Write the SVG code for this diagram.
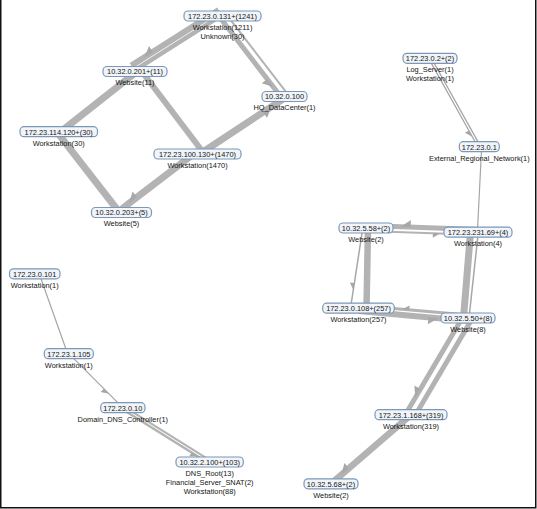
<svg xmlns="http://www.w3.org/2000/svg" width="537" height="509" viewBox="0 0 537 509">
<style>
.e{fill:none;stroke:#b3b3b3;stroke-linecap:butt}
.t{stroke:#a6a6a6}
.b{fill:#f1f4f9;stroke:#7b98b9;stroke-width:1.2}
text{font-family:"Liberation Sans",Arial,sans-serif;font-size:7.4px;fill:#141414;text-anchor:middle}
</style>
<defs>
<marker id="ahL" markerUnits="userSpaceOnUse" refX="0" refY="0" markerWidth="12" markerHeight="12" orient="auto" overflow="visible"><path d="M0,0 L-10,7 L-10,0 Z" fill="#a8a8a8"/></marker>
<marker id="ahS" markerUnits="userSpaceOnUse" refX="0" refY="0" markerWidth="10" markerHeight="10" orient="auto" overflow="visible"><path d="M0,0 L-7,4.5 L-7,0 Z" fill="#a6a6a6"/></marker>
</defs>
<rect x="0" y="0" width="537" height="509" fill="#ffffff"/>
<path d="M0.75,0 V507.75 H535.75 V0" fill="none" stroke="#111" stroke-width="1.5"/>
<g id="connectors">
<path class="e" stroke-width="6" d="M218.8,10.1 L144.4,57.3 L131.3,65.6" marker-mid="url(#ahL)"/>
<path class="e" stroke-width="4.5" d="M221.9,15.2 L134.4,70.7"/>
<path class="e" stroke-width="5" d="M220.1,17.8 L273.4,87 L282.1,98.3" marker-mid="url(#ahL)"/>
<path class="e" stroke-width="2" d="M225.7,13.6 L287.7,94.1"/>
<path class="e" stroke-width="6" d="M139.4,68.2 L201.9,150.7"/>
<path class="e" stroke-width="7" d="M197.5,155.5 L271.5,106.6 L284.5,98" marker-mid="url(#ahL)"/>
<path class="e" stroke-width="7" d="M58.7,133.2 L135,73"/>
<path class="e" stroke-width="7" d="M56.7,131.7 L119.5,212.5"/>
<path class="e" stroke-width="7" d="M197.5,151 L129.1,203.2 L121.5,209.5" marker-mid="url(#ahL)"/>
<path class="e t" stroke-width="1.3" d="M431.1,57.7 L480.4,146.1"/>
<path class="e t" stroke-width="1.3" d="M428.9,58.9 L472.3,136.7 L478.2,147.3" marker-mid="url(#ahS)"/>
<path class="e t" stroke-width="1.2" d="M481.5,150 L477.5,230"/>
<path class="e" stroke-width="5" d="M478,229.5 L400.7,226.7 L366,225.5" marker-mid="url(#ahL)"/>
<path class="e" stroke-width="2" d="M366,231 L439.9,233.6 L478,235" marker-mid="url(#ahS)"/>
<path class="e" stroke-width="6.5" d="M368,228 L366.5,308.2"/>
<path class="e t" stroke-width="1.5" d="M362.8,228 L353.3,290 L350.5,308" marker-mid="url(#ahS)"/>
<path class="e" stroke-width="3" d="M468,315 L402.3,309.3 L358.5,305.5" marker-mid="url(#ahS)"/>
<path class="e" stroke-width="6" d="M358.5,311 L438.4,318.3 L468,321" marker-mid="url(#ahL)"/>
<path class="e" stroke-width="7" d="M470.5,232.2 L463.5,318"/>
<path class="e t" stroke-width="1.5" d="M478,235 L469,318"/>
<path class="e" stroke-width="5" d="M463.7,315.5 L415.3,397.7 L406.7,412.2" marker-mid="url(#ahL)"/>
<path class="e" stroke-width="5" d="M471.4,320 L414.4,416.7"/>
<path class="e" stroke-width="6.5" d="M411,414.7 L341.4,474.8 L331,483.8" marker-mid="url(#ahL)"/>
<path class="e t" stroke-width="1.2" d="M40,276 L67,352"/>
<path class="e t" stroke-width="1.2" d="M68.8,353.7 L108.8,393.7 L122.8,407.7" marker-mid="url(#ahS)"/>
<path class="e" stroke-width="2.5" d="M122,409 L197.6,456.2 L208.9,463.3" marker-mid="url(#ahS)"/>
<path class="e" stroke-width="2" d="M123.6,406.4 L210.5,460.7"/>
</g>
<g id="n1"><rect class="b" x="184" y="11" width="77" height="10" rx="4"/><text x="222.5" y="18.8">172.23.0.131+(1241)</text><text x="222.5" y="29.8">Workstation(1211)</text><text x="222.5" y="38.8">Unknown(30)</text></g>
<g id="n2"><rect class="b" x="103" y="66.5" width="64" height="10" rx="4"/><text x="135" y="74.3">10.32.0.201+(11)</text><text x="135" y="85.3">Website(11)</text></g>
<g id="n3"><rect class="b" x="262" y="91.5" width="45" height="10" rx="4"/><text x="284.5" y="99.3">10.32.0.100</text><text x="284.5" y="110.3">HQ_DataCenter(1)</text></g>
<g id="n4"><rect class="b" x="20" y="126.7" width="77.5" height="10" rx="4"/><text x="58.7" y="134.5">172.23.114.120+(30)</text><text x="58.7" y="145.5">Workstation(30)</text></g>
<g id="n5"><rect class="b" x="154" y="149" width="87" height="10" rx="4"/><text x="197.5" y="156.8">172.23.100.130+(1470)</text><text x="197.5" y="167.8">Workstation(1470)</text></g>
<g id="n6"><rect class="b" x="91.5" y="207.5" width="60" height="10" rx="4"/><text x="121.5" y="215.3">10.32.0.203+(5)</text><text x="121.5" y="226.3">Website(5)</text></g>
<g id="n7"><rect class="b" x="403" y="53.3" width="54" height="10" rx="4"/><text x="430" y="61.1">172.23.0.2+(2)</text><text x="430" y="72.1">Log_Server(1)</text><text x="430" y="81.1">Workstation(1)</text></g>
<g id="n8"><rect class="b" x="459.3" y="141.7" width="40" height="10" rx="4"/><text x="479.3" y="149.5">172.23.0.1</text><text x="479.3" y="160.5">External_Regional_Network(1)</text></g>
<g id="n9"><rect class="b" x="339" y="223" width="54" height="10" rx="4"/><text x="366" y="230.8">10.32.5.58+(2)</text><text x="366" y="241.8">Website(2)</text></g>
<g id="n10"><rect class="b" x="444" y="227.2" width="68" height="10" rx="4"/><text x="478" y="235">172.23.231.69+(4)</text><text x="478" y="246">Workstation(4)</text></g>
<g id="n11"><rect class="b" x="322.7" y="303.2" width="71.6" height="10" rx="4"/><text x="358.5" y="311">172.23.0.108+(257)</text><text x="358.5" y="322">Workstation(257)</text></g>
<g id="n12"><rect class="b" x="441" y="313" width="54" height="10" rx="4"/><text x="468" y="320.8">10.32.5.50+(8)</text><text x="468" y="331.8">Website(8)</text></g>
<g id="n13"><rect class="b" x="375" y="409.7" width="72" height="10" rx="4"/><text x="411" y="417.5">172.23.1.168+(319)</text><text x="411" y="428.5">Workstation(319)</text></g>
<g id="n14"><rect class="b" x="304" y="478.8" width="54" height="10" rx="4"/><text x="331" y="486.6">10.32.5.68+(2)</text><text x="331" y="497.6">Website(2)</text></g>
<g id="n15"><rect class="b" x="9.5" y="268.8" width="50.5" height="10" rx="4"/><text x="34.7" y="276.6">172.23.0.101</text><text x="34.7" y="287.6">Workstation(1)</text></g>
<g id="n16"><rect class="b" x="44.3" y="348.7" width="49" height="10" rx="4"/><text x="68.8" y="356.5">172.23.1.105</text><text x="68.8" y="367.5">Workstation(1)</text></g>
<g id="n17"><rect class="b" x="100.7" y="402.7" width="44.3" height="10" rx="4"/><text x="122.8" y="410.5">172.23.0.10</text><text x="122.8" y="421.5">Domain_DNS_Controller(1)</text></g>
<g id="n18"><rect class="b" x="176" y="457" width="67.3" height="10" rx="4"/><text x="209.7" y="464.8">10.32.2.100+(103)</text><text x="209.7" y="475.8">DNS_Root(13)</text><text x="209.7" y="484.8">Financial_Server_SNAT(2)</text><text x="209.7" y="493.8">Workstation(88)</text></g>
</svg>
